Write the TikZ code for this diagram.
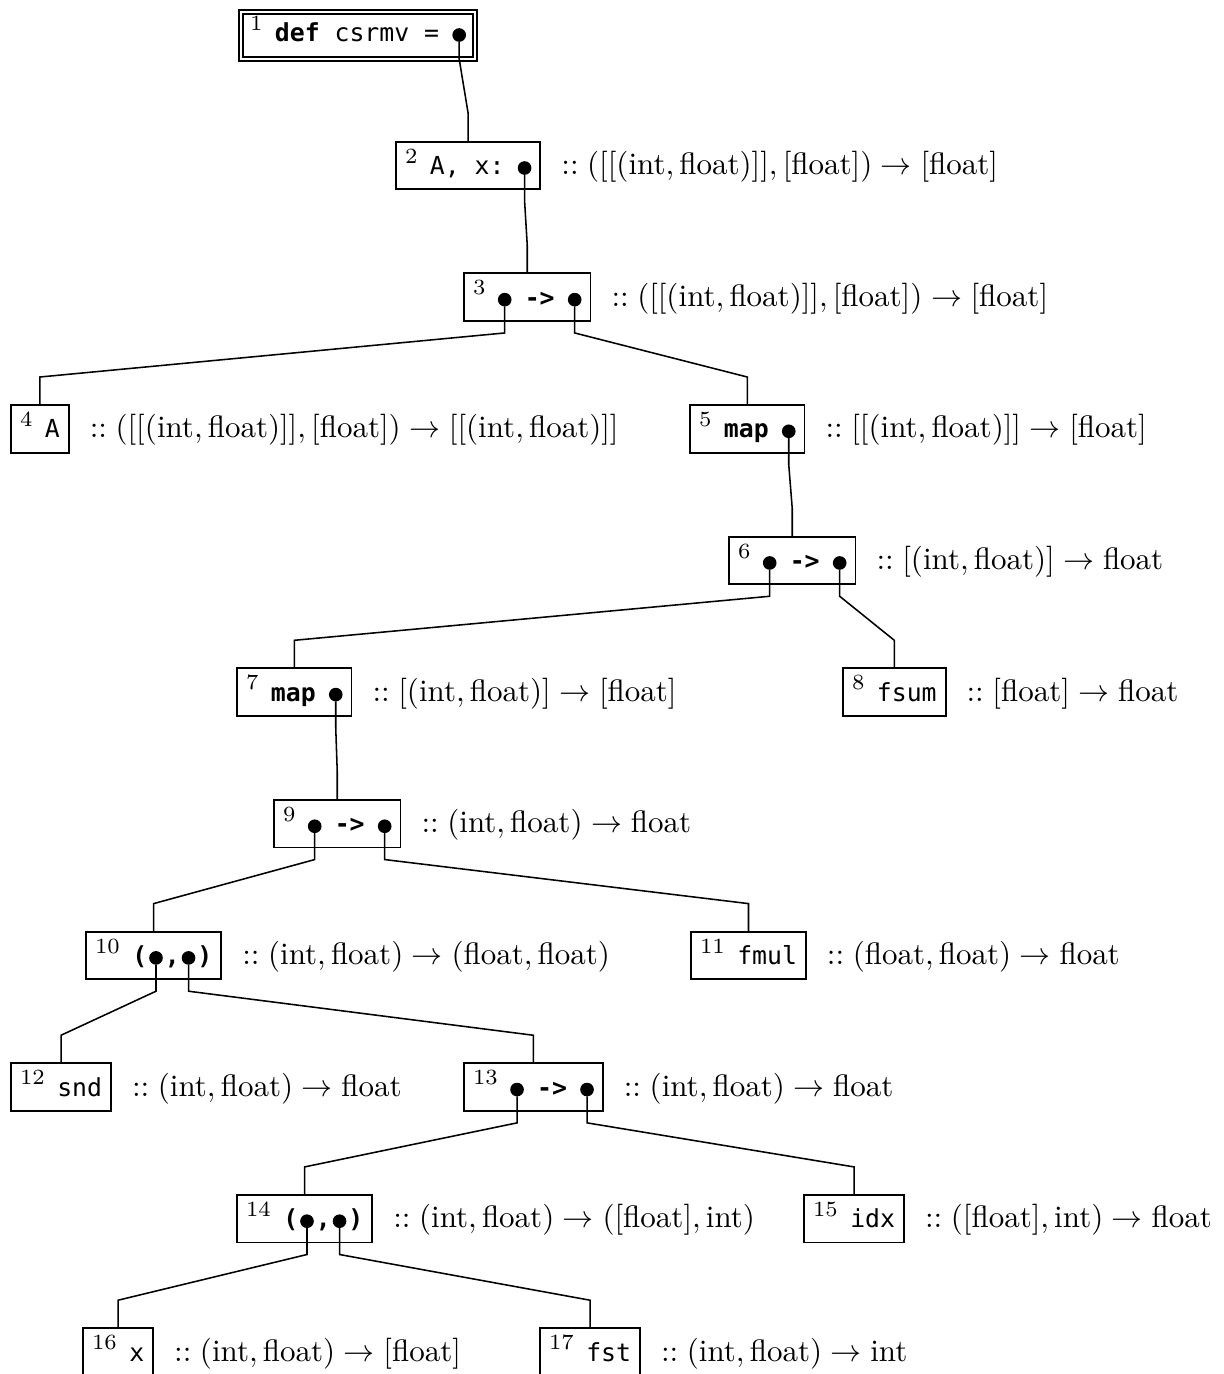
\documentclass[tikz,border=0pt]{standalone}
\usepackage{fontspec}
\setmonofont[Scale=0.80]{DejaVu Sans Mono}
\usetikzlibrary{calc,fit}
\newcommand\nn[1]{$^{#1}$}
\newcommand\tyint{\textrm{int}}
\newcommand\tyfl{\textrm{float}}
\newcommand\kw[1]{\texttt{\textbf{#1}}}
\newcommand\linkto[3]{\draw[edge] (#1) -- ($(#1 |- #2.south)+(0,12)$) -- ($(#3.north)+(0,-28)$) -- (#3.north);}
\begin{document}
\begin{tikzpicture}[x=0.3226pt,y=-0.3226pt,
  pc/.style={inner sep=0pt, outer sep=0pt, anchor=base west},
  bul/.style={circle, fill=black, inner sep=0pt, outer sep=0pt, minimum size=4.4pt},
  frame/.style={draw, line width=0.6pt, inner xsep=2.9pt, inner ysep=0pt, outer sep=0pt},
  dframe/.style={draw, double, line width=0.45pt, double distance=0.8pt, inner xsep=2.9pt, inner ysep=0pt, outer sep=0pt},
  lab/.style={inner sep=0pt, anchor=base west},
  edge/.style={line width=0.5pt}]
\useasboundingbox (0,0) rectangle (1224,1374);

% ---- box 1
\node[pc] (n1) at (250,41.5) {\nn{1}};
\node[pc] (t1) at ($(n1.base east)+(11,0)$) {\texttt{\textbf{def} csrmv =}};
\node[bul] (b1) at ($(t1.base east)+(20.05,-6.5)$) {};
\node[dframe, fit={($(n1.base west)+(0,-29.5)$) ($(b1.east |- n1.base west)+(0,17.5)$)}] (k1) {};

% ---- box 2
\node[pc] (n2) at (405,174.5) {\nn{2}};
\node[pc] (t2) at ($(n2.base east)+(11,0)$) {\texttt{A, x:}};
\node[bul] (b2) at ($(t2.base east)+(20.05,-6.5)$) {};
\node[frame, fit={($(n2.base west)+(0,-32.8)$) ($(b2.east |- n2.base west)+(0,14.8)$)}] (k2) {};
\node[lab] (l2) at ($(k2.east |- n2.base west)+(20.4,0)$) {$::([[(\tyint,\tyfl)]],[\tyfl])\to[\tyfl]$};

% ---- box 3
\node[pc] (n3) at (473,306.15) {\nn{3}};
\node[bul] (b3a) at ($(n3.base east)+(17.8,-6.5)$) {};
\node[pc] (t3) at ($(b3a.east |- n3.base west)+(13.25,0)$) {\kw{->}};
\node[bul] (b3b) at ($(t3.base east)+(20.05,-6.5)$) {};
\node[frame, fit={($(n3.base west)+(0,-32.8)$) ($(b3b.east |- n3.base west)+(0,14.8)$)}] (k3) {};
\node[lab] (l3) at ($(k3.east |- n3.base west)+(20.4,0)$) {$::([[(\tyint,\tyfl)]],[\tyfl])\to[\tyfl]$};

% ---- box 4
\node[pc] (n4) at (20,437.8) {\nn{4}};
\node[pc] (t4) at ($(n4.base east)+(11,0)$) {\texttt{A}};
\node[frame, fit={($(n4.base west)+(0,-32.8)$) ($(t4.base east)+(0,14.8)$)}] (k4) {};
\node[lab] (l4) at ($(k4.east |- n4.base west)+(20.4,0)$) {$::([[(\tyint,\tyfl)]],[\tyfl])\to[[(\tyint,\tyfl)]]$};

% ---- box 5
\node[pc] (n5) at (699,437.8) {\nn{5}};
\node[pc] (t5) at ($(n5.base east)+(11,0)$) {\kw{map}};
\node[bul] (b5) at ($(t5.base east)+(20.05,-6.5)$) {};
\node[frame, fit={($(n5.base west)+(0,-32.8)$) ($(b5.east |- n5.base west)+(0,14.8)$)}] (k5) {};
\node[lab] (l5) at ($(k5.east |- n5.base west)+(20.4,0)$) {$::[[(\tyint,\tyfl)]]\to[\tyfl]$};

% ---- box 6
\node[pc] (n6) at (738,569.45) {\nn{6}};
\node[bul] (b6a) at ($(n6.base east)+(17.8,-6.5)$) {};
\node[pc] (t6) at ($(b6a.east |- n6.base west)+(13.25,0)$) {\kw{->}};
\node[bul] (b6b) at ($(t6.base east)+(20.05,-6.5)$) {};
\node[frame, fit={($(n6.base west)+(0,-32.8)$) ($(b6b.east |- n6.base west)+(0,14.8)$)}] (k6) {};
\node[lab] (l6) at ($(k6.east |- n6.base west)+(20.4,0)$) {$::[(\tyint,\tyfl)]\to\tyfl$};

% ---- box 7
\node[pc] (n7) at (246,701.1) {\nn{7}};
\node[pc] (t7) at ($(n7.base east)+(11,0)$) {\kw{map}};
\node[bul] (b7) at ($(t7.base east)+(20.05,-6.5)$) {};
\node[frame, fit={($(n7.base west)+(0,-32.8)$) ($(b7.east |- n7.base west)+(0,14.8)$)}] (k7) {};
\node[lab] (l7) at ($(k7.east |- n7.base west)+(20.4,0)$) {$::[(\tyint,\tyfl)]\to[\tyfl]$};

% ---- box 8
\node[pc] (n8) at (852,701.1) {\nn{8}};
\node[pc] (t8) at ($(n8.base east)+(11,0)$) {\texttt{fsum}};
\node[frame, fit={($(n8.base west)+(0,-32.8)$) ($(t8.base east)+(0,14.8)$)}] (k8) {};
\node[lab] (l8) at ($(k8.east |- n8.base west)+(20.4,0)$) {$::[\tyfl]\to\tyfl$};

% ---- box 9
\node[pc] (n9) at (283,832.75) {\nn{9}};
\node[bul] (b9a) at ($(n9.base east)+(17.8,-6.5)$) {};
\node[pc] (t9) at ($(b9a.east |- n9.base west)+(13.25,0)$) {\kw{->}};
\node[bul] (b9b) at ($(t9.base east)+(20.05,-6.5)$) {};
\node[frame, fit={($(n9.base west)+(0,-32.8)$) ($(b9b.east |- n9.base west)+(0,14.8)$)}] (k9) {};
\node[lab] (l9) at ($(k9.east |- n9.base west)+(20.4,0)$) {$::(\tyint,\tyfl)\to\tyfl$};

% ---- box 10
\node[pc] (n10) at (95,964.4) {\nn{10}};
\node[pc] (t10a) at ($(n10.base east)+(11,0)$) {\kw{(}};
\node[bul] (b10a) at ($(t10a.base east)+(8.8,-6.5)$) {};
\node[pc] (t10b) at ($(b10a.east |- n10.base west)+(2,0)$) {\kw{,}};
\node[bul] (b10b) at ($(t10b.base east)+(8.8,-6.5)$) {};
\node[pc] (t10c) at ($(b10b.east |- n10.base west)+(2,0)$) {\kw{)}};
\node[frame, fit={($(n10.base west)+(0,-32.8)$) ($(t10c.base east)+(0,14.8)$)}] (k10) {};
\node[lab] (l10) at ($(k10.east |- n10.base west)+(20.4,0)$) {$::(\tyint,\tyfl)\to(\tyfl,\tyfl)$};

% ---- box 11
\node[pc] (n11) at (700,964.4) {\nn{11}};
\node[pc] (t11) at ($(n11.base east)+(11,0)$) {\texttt{fmul}};
\node[frame, fit={($(n11.base west)+(0,-32.8)$) ($(t11.base east)+(0,14.8)$)}] (k11) {};
\node[lab] (l11) at ($(k11.east |- n11.base west)+(20.4,0)$) {$::(\tyfl,\tyfl)\to\tyfl$};

% ---- box 12
\node[pc] (n12) at (20,1096.05) {\nn{12}};
\node[pc] (t12) at ($(n12.base east)+(11,0)$) {\texttt{snd}};
\node[frame, fit={($(n12.base west)+(0,-32.8)$) ($(t12.base east)+(0,14.8)$)}] (k12) {};
\node[lab] (l12) at ($(k12.east |- n12.base west)+(20.4,0)$) {$::(\tyint,\tyfl)\to\tyfl$};

% ---- box 13
\node[pc] (n13) at (473,1096.05) {\nn{13}};
\node[bul] (b13a) at ($(n13.base east)+(17.8,-6.5)$) {};
\node[pc] (t13) at ($(b13a.east |- n13.base west)+(13.25,0)$) {\kw{->}};
\node[bul] (b13b) at ($(t13.base east)+(20.05,-6.5)$) {};
\node[frame, fit={($(n13.base west)+(0,-32.8)$) ($(b13b.east |- n13.base west)+(0,14.8)$)}] (k13) {};
\node[lab] (l13) at ($(k13.east |- n13.base west)+(20.4,0)$) {$::(\tyint,\tyfl)\to\tyfl$};

% ---- box 14
\node[pc] (n14) at (246,1227.7) {\nn{14}};
\node[pc] (t14a) at ($(n14.base east)+(11,0)$) {\kw{(}};
\node[bul] (b14a) at ($(t14a.base east)+(8.8,-6.5)$) {};
\node[pc] (t14b) at ($(b14a.east |- n14.base west)+(2,0)$) {\kw{,}};
\node[bul] (b14b) at ($(t14b.base east)+(8.8,-6.5)$) {};
\node[pc] (t14c) at ($(b14b.east |- n14.base west)+(2,0)$) {\kw{)}};
\node[frame, fit={($(n14.base west)+(0,-32.8)$) ($(t14c.base east)+(0,14.8)$)}] (k14) {};
\node[lab] (l14) at ($(k14.east |- n14.base west)+(20.4,0)$) {$::(\tyint,\tyfl)\to([\tyfl],\tyint)$};

% ---- box 15
\node[pc] (n15) at (813,1227.7) {\nn{15}};
\node[pc] (t15) at ($(n15.base east)+(11,0)$) {\texttt{idx}};
\node[frame, fit={($(n15.base west)+(0,-32.8)$) ($(t15.base east)+(0,14.8)$)}] (k15) {};
\node[lab] (l15) at ($(k15.east |- n15.base west)+(20.4,0)$) {$::([\tyfl],\tyint)\to\tyfl$};

% ---- box 16
\node[pc] (n16) at (92,1361) {\nn{16}};
\node[pc] (t16) at ($(n16.base east)+(11,0)$) {\texttt{x}};
\node[frame, fit={($(n16.base west)+(0,-32.8)$) ($(t16.base east)+(0,14.8)$)}] (k16) {};
\node[lab] (l16) at ($(k16.east |- n16.base west)+(20.4,0)$) {$::(\tyint,\tyfl)\to[\tyfl]$};

% ---- box 17
\node[pc] (n17) at (549,1361) {\nn{17}};
\node[pc] (t17) at ($(n17.base east)+(11,0)$) {\texttt{fst}};
\node[frame, fit={($(n17.base west)+(0,-32.8)$) ($(t17.base east)+(0,14.8)$)}] (k17) {};
\node[lab] (l17) at ($(k17.east |- n17.base west)+(20.4,0)$) {$::(\tyint,\tyfl)\to\tyint$};

% ---- connectors
\draw[edge] (b1) -- (b1 |- k1.south) -- ($(k2.north)+(0,-28)$) -- (k2.north);
\linkto{b2}{k2}{k3}
\linkto{b3a}{k3}{k4}
\linkto{b3b}{k3}{k5}
\linkto{b5}{k5}{k6}
\linkto{b6a}{k6}{k7}
\linkto{b6b}{k6}{k8}
\linkto{b7}{k7}{k9}
\linkto{b9a}{k9}{k10}
\linkto{b9b}{k9}{k11}
\linkto{b10a}{k10}{k12}
\linkto{b10b}{k10}{k13}
\linkto{b13a}{k13}{k14}
\linkto{b13b}{k13}{k15}
\linkto{b14a}{k14}{k16}
\linkto{b14b}{k14}{k17}
\end{tikzpicture}
\end{document}
